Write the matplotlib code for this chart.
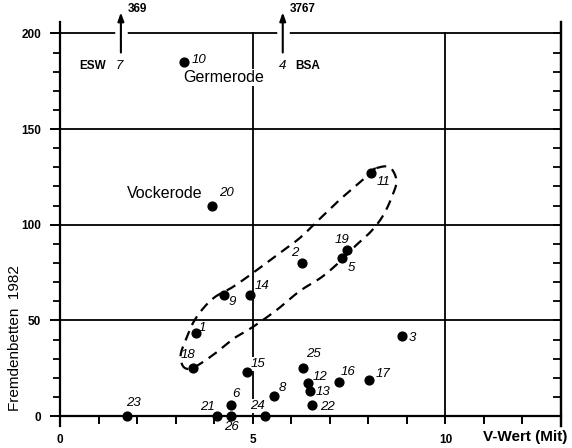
import numpy as np
import matplotlib
matplotlib.use("Agg")
import matplotlib.pyplot as plt
from matplotlib.ticker import MultipleLocator, FixedLocator

plt.rcParams['font.family'] = ['Liberation Sans', 'DejaVu Sans']

# ---- data ----
ids = ['10', '20', '11', '2', '19', '5', '9', '14', '1', '18', '15', '8', '6',
       '23', '21', '26', '24', '25', '12', '13', '22', '16', '17', '3']
v_wert = [3.22, 3.95, 8.06, 6.29, 7.44, 7.32, 4.25, 4.94, 3.52, 3.44, 4.84, 5.54, 4.43,
          1.73, 4.07, 4.45, 5.33, 6.31, 6.44, 6.49, 6.54, 7.24, 8.01, 8.88]
betten = [184.8, 109.7, 126.8, 80.0, 86.8, 82.6, 63.1, 63.1, 43.5, 25.2, 23.0, 10.5, 5.7,
          0, 0, 0, 0, 25.2, 17.1, 12.9, 5.7, 17.6, 18.8, 42.0]
# label offsets in pixels (dx, dy)
lab_dx = [15, 14, 13, -8, -5, 9, 8, 12, 7, -5, 12, 9, 5, 7, -9, 0, -8, 10, 12, 13, 15, 9, 14, 10]
lab_dy = [2, 13, -9, 10, 10, -10, -7, 9, 5, 13, 8, 8, 11, 13, 9, -11, 10, 14, 6, -1, -2, 10, 6, -2]

# off-scale points (arrows)
off_x = [1.58, 5.78]
off_num = ['7', '4']
off_name = ['ESW', 'BSA']
off_val = ['369', '3767']

# dashed loop enclosing group
loop_x = [8.21, 8.55, 8.73, 8.63, 8.39, 8.08, 7.69, 7.25, 6.79, 6.22, 5.62, 5.0, 4.53, 4.07,
          3.63, 3.37, 3.19, 3.13, 3.26, 3.45, 3.70, 4.02, 4.48, 5.0, 5.70, 6.22, 6.68, 7.25,
          7.85, 8.06]
loop_y = [129.6, 130.1, 123.3, 115.5, 105.0, 96.7, 89.4, 80.5, 72.6, 65.3, 55.4, 46.5, 40.8,
          33.4, 27.2, 24.6, 26.1, 31.9, 39.7, 48.6, 55.9, 62.2, 67.4, 74.7, 85.2, 93.0, 101.9,
          112.9, 123.3, 127.5]


def catmull_closed(xs, ys, n=12):
    P = np.column_stack([xs, ys])
    m = len(P)
    out = []
    for i in range(m):
        p0, p1, p2, p3 = P[(i - 1) % m], P[i], P[(i + 1) % m], P[(i + 2) % m]
        for t in np.linspace(0, 1, n, endpoint=False):
            t2, t3 = t * t, t * t * t
            pt = 0.5 * ((2 * p1) + (-p0 + p2) * t + (2 * p0 - 5 * p1 + 4 * p2 - p3) * t2
                        + (-p0 + 3 * p1 - 3 * p2 + p3) * t3)
            out.append(pt)
    out.append(out[0])
    out = np.array(out)
    return out[:, 0], out[:, 1]


fig = plt.figure(figsize=(5.72, 4.48), dpi=100)
ax = fig.add_axes([60 / 572, (448 - 425.6) / 448, 501 / 572, 403.7 / 448])
ax.set_xlim(0, 13)
ax.set_ylim(-5, 206)

# grid lines
for gy in [50, 100, 150, 200]:
    ax.plot([0, 13], [gy, gy], color='black', lw=1.3, zorder=1)
for gx in [5, 10]:
    ax.plot([gx, gx], [0, 200], color='black', lw=1.3, zorder=1)

# spines
ax.spines['top'].set_visible(False)
ax.spines['bottom'].set_position(('data', 0))
for s in ['left', 'right', 'bottom']:
    ax.spines[s].set_linewidth(1.6)

ax.xaxis.set_major_locator(FixedLocator([0, 5, 10]))
ax.xaxis.set_minor_locator(MultipleLocator(1))
ax.set_yticks([0, 50, 100, 150, 200])
ax.yaxis.set_minor_locator(MultipleLocator(10))
ax.tick_params(axis='x', which='both', direction='out', length=6, width=1.4, pad=7,
               labelsize=8.5)
ax.tick_params(axis='y', which='major', direction='out', length=7.5, width=1.4, pad=6,
               labelsize=8.5)
ax.tick_params(axis='y', which='minor', direction='out', length=5, width=1.3)
for lab in ax.get_xticklabels() + ax.get_yticklabels():
    lab.set_fontweight('bold')

ax2 = ax.twinx()
ax2.set_ylim(-5, 206)
ax2.yaxis.set_major_locator(FixedLocator(list(range(0, 201, 10))))
ax2.tick_params(axis='y', direction='in', length=6, width=1.3, labelright=False)
for s in ['top', 'bottom', 'left']:
    ax2.spines[s].set_visible(False)
ax2.spines['right'].set_linewidth(1.6)

# loop
lx, ly = catmull_closed(loop_x, loop_y)
ax.plot(lx, ly, color='black', lw=1.6, ls=(0, (4.5, 3)), zorder=4.5)

# points
ax.scatter(v_wert, betten, s=40, color='black', zorder=4, clip_on=False)
for i, lab in enumerate(ids):
    ax.annotate(lab, (v_wert[i], betten[i]), xytext=(lab_dx[i], lab_dy[i]),
                textcoords='offset pixels', ha='center', va='center',
                fontsize=9.5, style='italic', zorder=3,
                bbox=dict(boxstyle='square,pad=0.05', fc='white', ec='none'))

# arrows for off-scale values
for i, x in enumerate(off_x):
    ax.plot([x, x], [193, 207], color='white', lw=9, zorder=2, solid_capstyle='butt',
            clip_on=False)
    ax.annotate('', xy=(x, 211), xytext=(x, 190), zorder=3, annotation_clip=False,
                arrowprops=dict(arrowstyle='-|>,head_length=0.5,head_width=0.18',
                                color='black', lw=1.5, shrinkA=0, shrinkB=0))
    ax.text(x + 0.18, 212.5, off_val[i], fontsize=8.5, fontweight='bold', ha='left',
            va='center', clip_on=False)
ax.text(1.54, 182.9, off_num[0], fontsize=9.5, style='italic', ha='center',
        va='center')
ax.text(1.19, 182.9, off_name[0], fontsize=8.5, fontweight='bold', ha='right',
        va='center')
ax.text(off_x[1], 182.9, off_num[1], fontsize=9.5, style='italic', ha='center',
        va='center')
ax.text(off_x[1] + 0.33, 182.9, off_name[1], fontsize=8.5, fontweight='bold', ha='left',
        va='center')

ax.text(4.25, 177, 'Germerode', fontsize=11.5, ha='center', va='center', zorder=5,
        bbox=dict(boxstyle='square,pad=0.05', fc='white', ec='none'))
ax.text(2.72, 116.5, 'Vockerode', fontsize=11.5, ha='center', va='center', zorder=5)

fig.text(525 / 572, 1 - 437 / 448, 'V-Wert (Mit)', fontsize=11, fontweight='bold',
         ha='center', va='center')
fig.text(15 / 572, 1 - 338 / 448, 'Fremdenbetten  1982', fontsize=11, rotation=90,
         ha='center', va='center')

fig.savefig('out.png', dpi=100)
